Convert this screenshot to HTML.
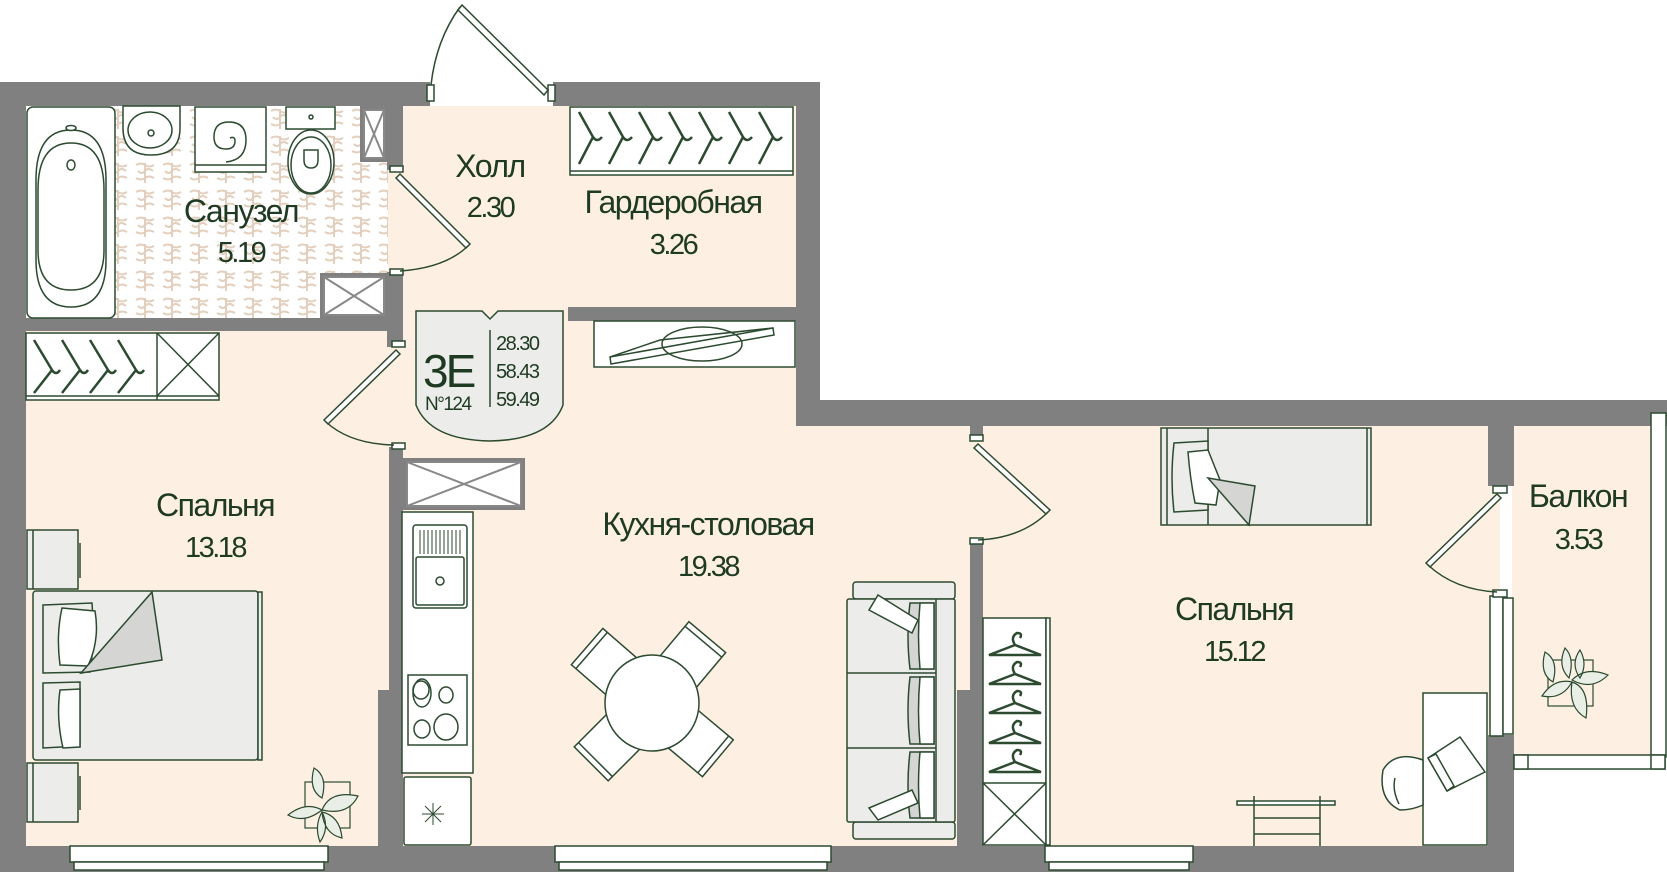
<!DOCTYPE html>
<html><head><meta charset="utf-8"><style>
html,body{margin:0;padding:0;background:#fff;}
svg{display:block;}
text{font-family:"Liberation Sans",sans-serif;fill:#1f3a22;}
</style></head><body>
<svg width="1667" height="872" viewBox="0 0 1667 872" xmlns="http://www.w3.org/2000/svg">
<defs>
<pattern id="tile" width="27" height="27" patternUnits="userSpaceOnUse" x="24" y="106">
<rect width="27" height="27" fill="#fff"/>
<path d="M4 5 q5 -3 9 0 q4 3 9 0 M6 11 q4 4 7 0 q3 -4 8 0 M4 18 q5 3 9 0 q4 -3 9 0 M13 3 v20" stroke="#e2cfbd" stroke-width="2" fill="none"/>
</pattern>
</defs>

<rect x="24" y="106" width="780" height="740" fill="#fdf0e3"/>
<rect x="780" y="420" width="720" height="426" fill="#fdf0e3"/>
<rect x="1512" y="412" width="140" height="345" fill="#fdf0e3"/>
<rect x="24" y="106" width="364" height="213" fill="url(#tile)"/>

<g fill="#808080">
<rect x="0" y="82" width="430" height="24"/>
<rect x="553" y="82" width="267" height="24"/>
<rect x="0" y="82" width="26" height="790"/>
<rect x="796" y="82" width="24" height="344"/>
<rect x="796" y="400" width="871" height="26"/>
<rect x="1512" y="400" width="155" height="13"/>
<rect x="1488" y="400" width="26" height="86"/>
<rect x="1488" y="735" width="26" height="137"/>
<rect x="0" y="846" width="1514" height="26"/>
<rect x="387" y="106" width="16" height="64"/>
<rect x="387" y="272" width="16" height="75"/>
<rect x="24" y="318" width="379" height="13"/>
<rect x="389" y="447" width="14" height="400"/>
<rect x="378" y="690" width="25" height="160"/>
<rect x="568" y="307" width="230" height="14"/>
<rect x="970" y="426" width="13" height="12"/>
<rect x="970" y="542" width="13" height="306"/>
<rect x="957" y="690" width="26" height="160"/>
<rect x="360" y="106" width="28" height="56"/>
<rect x="320" y="273" width="68" height="46"/>
<rect x="403" y="458" width="122" height="52"/>
</g>

<g fill="#fff" stroke="#2c4a30" stroke-width="1.5">
<rect x="70" y="846" width="258" height="16"/><rect x="74" y="862" width="250" height="8"/>
<rect x="555" y="846" width="276" height="16"/><rect x="559" y="862" width="268" height="8"/>
<rect x="1045" y="846" width="148" height="16"/><rect x="1049" y="862" width="140" height="8"/>
<rect x="1651" y="413" width="15" height="344"/>
<rect x="1514" y="755" width="151" height="14"/>
<rect x="1514" y="755" width="14" height="14"/><rect x="1651" y="755" width="14" height="14"/>
<rect x="1490" y="596" width="13" height="140"/><rect x="1503" y="598" width="10" height="136"/>
</g>

<g fill="#fff" stroke="#888" stroke-width="2">
<rect x="364" y="110" width="20" height="48"/><path d="M364 110 L384 158 M384 110 L364 158"/>
<rect x="324" y="277" width="60" height="38"/><path d="M324 277 L384 315 M384 277 L324 315"/>
<rect x="407" y="462" width="114" height="44"/><path d="M407 462 L521 506 M521 462 L407 506"/>
</g>

<g fill="#fff" stroke="#2c4a30" stroke-width="1.5">
<rect x="427" y="85" width="7" height="16"/><rect x="548" y="85" width="7" height="16"/>
<path d="M548 90 L462 5 L458 10 L544 95 Z"/>
<path d="M460 7 Q436 40 431 85" fill="none"/>
<rect x="390" y="166" width="13" height="6"/><rect x="390" y="269" width="13" height="6"/>
<path d="M400 174 L470 244 L466 248 L396 178 Z"/>
<path d="M468 246 Q445 268 400 271" fill="none"/>
<rect x="392" y="341" width="13" height="6"/><rect x="392" y="443" width="13" height="6"/>
<path d="M396 350 L324 420 L328 424 L400 354 Z"/>
<path d="M326 422 Q350 444 394 445" fill="none"/>
<rect x="970" y="435" width="13" height="6"/><rect x="970" y="538" width="13" height="6"/>
<path d="M978 444 L1050 510 L1046 514 L974 448 Z"/>
<path d="M1048 512 Q1022 538 978 540" fill="none"/>
<rect x="1493" y="486" width="14" height="7"/><rect x="1493" y="590" width="14" height="7"/>
<path d="M1497 494 L1426 563 L1430 567 L1501 498 Z"/>
<path d="M1428 565 Q1455 590 1497 592" fill="none"/>
</g>

<g fill="#fff" stroke="#2c4a30" stroke-width="1.5">
<rect x="27" y="107" width="88" height="211" rx="6"/>
<path d="M36 180 Q36 130 71 130 Q106 130 106 180 L106 260 Q106 307 71 307 Q36 307 36 260 Z"/>
<path d="M38 190 Q38 143 71 143 Q104 143 104 190 L104 250 Q104 290 71 290 Q38 290 38 250 Z" fill="none"/>
<ellipse cx="71" cy="128" rx="5" ry="2.5"/><ellipse cx="71" cy="165" rx="4" ry="5"/>
<path d="M123 106 L180 106 L180 128 Q180 155 151 155 Q123 155 123 128 Z"/>
<ellipse cx="150" cy="130" rx="22" ry="18" fill="none"/><circle cx="151" cy="133" r="3"/>
<rect x="195" y="107" width="71" height="65"/><line x1="195" y1="165" x2="266" y2="165"/>
<path d="M230 138 q5 -2 5 3 q0 8 -9 8 q-12 0 -12 -12 q0 -15 15 -15 q17 0 17 18 q0 20 -20 22" fill="none"/>
<rect x="286" y="107" width="49" height="22"/><circle cx="311" cy="117" r="2"/>
<ellipse cx="311" cy="162" rx="23" ry="32"/><ellipse cx="311" cy="165" rx="20" ry="28" fill="none"/>
<path d="M304 150 h14 v10 q0 8 -7 8 q-7 0 -7 -8 Z" fill="none"/>
</g>

<g fill="#fff" stroke="#2c4a30" stroke-width="1.5">
<rect x="26" y="333" width="193" height="67"/>
<line x1="157" y1="333" x2="157" y2="400"/><line x1="26" y1="396" x2="219" y2="396"/>
<path d="M157 333 L219 396 M219 333 L157 396"/>
<g fill="none" stroke-width="2.5">
<path d="M34 340 L52 370 L34 393 M52 370 q4 6 8 0"/>
<path d="M62 340 L80 370 L62 393 M80 370 q4 6 8 0"/>
<path d="M90 340 L108 370 L90 393 M108 370 q4 6 8 0"/>
<path d="M118 340 L136 370 L118 393 M136 370 q4 6 8 0"/>
</g>
</g>

<g fill="#fff" stroke="#2c4a30" stroke-width="1.5">
<rect x="570" y="107" width="223" height="68"/><line x1="570" y1="171" x2="793" y2="171"/>
<g fill="none" stroke-width="2.5">
<path d="M579 112 L593 137 L579 164 M593 137 q4 6 9 0"/>
<path d="M609 112 L623 137 L609 164 M623 137 q4 6 9 0"/>
<path d="M639 112 L653 137 L639 164 M653 137 q4 6 9 0"/>
<path d="M669 112 L683 137 L669 164 M683 137 q4 6 9 0"/>
<path d="M699 112 L713 137 L699 164 M713 137 q4 6 9 0"/>
<path d="M729 112 L743 137 L729 164 M743 137 q4 6 9 0"/>
<path d="M759 112 L773 137 L759 164 M773 137 q4 6 9 0"/>
</g>
<rect x="594" y="321" width="201" height="46"/>
<path d="M610 357 L773 328 L774 335 L611 364 Z"/>
<ellipse cx="702" cy="344" rx="40" ry="17" fill="none"/>
<path d="M610 357 L660 340 L773 328" fill="none"/>
</g>

<path d="M416 311 L482 311 L490 319 L498 311 L563 311 L563 405 Q550 440 490 441 Q430 440 416 405 Z" fill="#ececea" stroke="#2c4a30" stroke-width="1.5"/>
<line x1="490" y1="330" x2="490" y2="407" stroke="#2c4a30" stroke-width="1.5"/>
<text x="423" y="387" font-size="46" letter-spacing="-3">3E</text>
<text x="425" y="410" font-size="19" letter-spacing="-1.5">N°124</text>
<text x="496" y="350" font-size="20" letter-spacing="-1.5">28.30</text>
<text x="496" y="378" font-size="20" letter-spacing="-1.5">58.43</text>
<text x="496" y="406" font-size="20" letter-spacing="-1.5">59.49</text>

<g fill="#fff" stroke="#2c4a30" stroke-width="1.5">
<rect x="402" y="512" width="71" height="261"/>
<rect x="413" y="525" width="54" height="83" rx="3"/>
<rect x="416" y="557" width="48" height="48" rx="2"/><circle cx="440" cy="581" r="4"/>
<path d="M420 530 v24 M424 530 v24 M428 530 v24 M432 530 v24 M436 530 v24 M440 530 v24 M444 530 v24 M448 530 v24 M452 530 v24 M456 530 v24 M460 530 v24" stroke-width="1"/>
<rect x="408" y="675" width="59" height="70"/>
<ellipse cx="422" cy="693" rx="9" ry="14"/><ellipse cx="421" cy="690" rx="8" ry="9" fill="none"/>
<ellipse cx="446" cy="695" rx="7" ry="8"/><ellipse cx="422" cy="729" rx="8" ry="9"/><ellipse cx="446" cy="727" rx="12" ry="13"/>
<rect x="404" y="777" width="67" height="68" rx="2"/>
<path d="M433 803 v22 M422 814 h22 M425 806 l16 16 M441 806 l-16 16" stroke-width="1"/>
</g>

<g fill="#fff" stroke="#2c4a30" stroke-width="1.5">
<g transform="translate(652,703)">
<g transform="rotate(-49)"><rect x="-24" y="-86" width="48" height="50"/><line x1="-24" y1="-80" x2="24" y2="-80"/></g>
<g transform="rotate(40)"><rect x="-24" y="-86" width="48" height="50"/><line x1="-24" y1="-80" x2="24" y2="-80"/></g>
<g transform="rotate(130)"><rect x="-24" y="-86" width="48" height="50"/><line x1="-24" y1="-80" x2="24" y2="-80"/></g>
<g transform="rotate(-135)"><rect x="-24" y="-86" width="48" height="50"/><line x1="-24" y1="-80" x2="24" y2="-80"/></g>
<ellipse cx="0" cy="0" rx="47" ry="48"/>
</g>
</g>

<g stroke="#2c4a30" stroke-width="1.5">
<rect x="853" y="582" width="102" height="17" rx="3" fill="#ececea"/>
<rect x="853" y="822" width="102" height="17" rx="3" fill="#ececea"/>
<rect x="847" y="599" width="108" height="223" rx="2" fill="#ececea"/>
<line x1="936" y1="599" x2="936" y2="822"/>
<line x1="847" y1="673" x2="936" y2="673"/><line x1="847" y1="748" x2="936" y2="748"/>
<path d="M910 603 h24 v66 h-24 q-4 -33 0 -66 Z" fill="#d5d5d3"/><path d="M920 603 h14 v66 h-14 q-3 -33 0 -66 Z" fill="#fff"/>
<path d="M910 677 h24 v67 h-24 q-4 -33 0 -67 Z" fill="#d5d5d3"/><path d="M920 677 h14 v67 h-14 q-3 -33 0 -67 Z" fill="#fff"/>
<path d="M910 752 h24 v66 h-24 q-4 -33 0 -66 Z" fill="#d5d5d3"/><path d="M920 752 h14 v66 h-14 q-3 -33 0 -66 Z" fill="#fff"/>
<path d="M878 595 L918 620 L912 633 L869 610 Z" fill="#fff"/>
<path d="M869 808 L912 790 L918 803 L878 820 Z" fill="#fff"/>
</g>

<g stroke="#2c4a30" stroke-width="1.5">
<rect x="27" y="530" width="51" height="59" fill="#ececea"/><line x1="33" y1="530" x2="33" y2="589"/><line x1="80" y1="543" x2="80" y2="578"/>
<rect x="27" y="763" width="51" height="59" fill="#ececea"/><line x1="33" y1="763" x2="33" y2="822"/><line x1="80" y1="776" x2="80" y2="810"/>
<rect x="33" y="591" width="225" height="169" rx="3" fill="#ececea"/>
<rect x="258" y="592" width="4" height="168" fill="#ececea"/>
<path d="M43 605 L92 603 Q95 640 90 672 L43 673 Z" fill="#ececea"/>
<path d="M62 608 L95 611 Q100 640 88 666 L60 665 Q56 635 62 608 Z" fill="#fff"/>
<path d="M43 683 L80 682 L80 746 L43 748 Z" fill="#ececea"/>
<path d="M60 690 L80 689 L80 747 L63 748 Q56 718 60 690 Z" fill="#fff"/>
<path d="M81 673 L152 592 L162 660 Z" fill="#d5d5d3"/>
</g>

<g stroke="#2c4a30" stroke-width="1.5">
<rect x="1161" y="428" width="210" height="97" fill="#ececea"/>
<line x1="1167" y1="428" x2="1167" y2="525"/><line x1="1367" y1="428" x2="1367" y2="525"/>
<line x1="1208" y1="428" x2="1208" y2="525"/>
<path d="M1174 443 L1208 441 L1208 510 L1174 512 Q1170 478 1174 443 Z" fill="#ececea"/>
<path d="M1188 452 L1208 450 L1220 480 L1216 505 L1195 503 Q1190 478 1188 452 Z" fill="#fff"/>
<path d="M1208 478 L1255 486 L1249 525 Z" fill="#d5d5d3"/>
</g>

<g fill="#fff" stroke="#2c4a30" stroke-width="1.5">
<rect x="983" y="618" width="63" height="227"/><rect x="1046" y="618" width="4" height="227"/>
<line x1="983" y1="783" x2="1046" y2="783"/><path d="M983 783 L1046 845 M1046 783 L983 845"/>
<g fill="none" stroke-width="2.5">
<path d="M1015 645 l-26 10 h52 z M1015 645 q-5 -8 2 -12 q6 0 3 5"/>
<path d="M1015 674 l-26 10 h52 z M1015 674 q-5 -8 2 -12 q6 0 3 5"/>
<path d="M1015 703 l-26 10 h52 z M1015 703 q-5 -8 2 -12 q6 0 3 5"/>
<path d="M1015 733 l-26 10 h52 z M1015 733 q-5 -8 2 -12 q6 0 3 5"/>
<path d="M1015 762 l-26 10 h52 z M1015 762 q-5 -8 2 -12 q6 0 3 5"/>
</g>
</g>

<g fill="#fff" stroke="#2c4a30" stroke-width="1.5">
<rect x="1423" y="693" width="64" height="152"/>
<path d="M1428 758 L1460 737 L1485 772 L1447 791 Z"/>
<path d="M1428 758 L1436 754 L1454 786 L1447 791 Z"/>
<path d="M1423 760 Q1395 750 1383 770 Q1378 800 1400 810 Q1412 810 1423 805 Z"/>
<path d="M1395 778 Q1392 790 1399 804" fill="none"/>
<path d="M1237 801 h98 v4 h-98 z M1254 796 v50 M1320 796 v50 M1254 818 h66 M1254 834 h66"/>
</g>

<g stroke="#2c4a30" stroke-width="1.2" fill="#e9efe6">
<rect x="305" y="782" width="45" height="46" fill="none"/>
<path d="M314 768 q14 8 8 30 q-14 -8 -8 -30 Z M288 815 q18 -14 34 -5 q-18 14 -34 5 Z M322 810 q8 -20 36 -14 q-10 20 -36 14 Z M322 812 q18 4 20 26 q-18 -4 -20 -26 Z M322 812 q-8 14 -2 30 q10 -14 2 -30 Z"/>
<rect x="1548" y="660" width="45" height="46" fill="none"/>
<path d="M1545 652 q14 8 8 30 q-14 -8 -8 -30 Z M1565 648 q10 10 4 30 q-12 -12 -4 -30 Z M1580 650 q8 14 0 28 q-10 -14 0 -28 Z M1572 680 q14 -14 36 -5 q-16 16 -36 5 Z M1572 682 q-18 -4 -30 14 q20 4 30 -14 Z M1572 682 q18 6 14 36 q-18 -10 -14 -36 Z"/>
</g>

<g font-size="32" text-anchor="middle" letter-spacing="-1.5">
<text x="490" y="177">Холл</text>
<text x="673" y="213">Гардеробная</text>
<text x="241" y="222">Санузел</text>
<text x="215" y="516">Спальня</text>
<text x="708" y="535">Кухня-столовая</text>
<text x="1234" y="620">Спальня</text>
<text x="1578" y="507">Балкон</text>
</g>
<g font-size="29" text-anchor="middle" letter-spacing="-2.5">
<text x="490" y="217">2.30</text>
<text x="673" y="254">3.26</text>
<text x="241" y="262">5.19</text>
<text x="215" y="557">13.18</text>
<text x="708" y="576">19.38</text>
<text x="1234" y="661">15.12</text>
<text x="1578" y="549">3.53</text>
</g>
</svg>
</body></html>
